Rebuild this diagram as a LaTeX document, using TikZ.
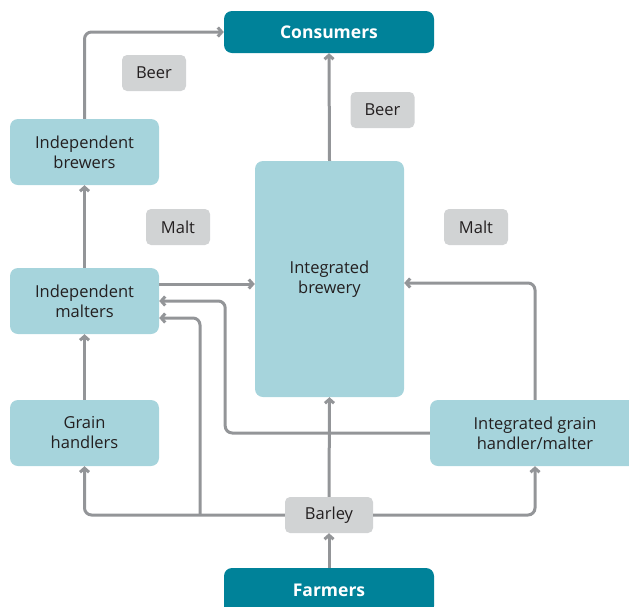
\documentclass[tikz,border=0pt]{standalone}
\usepackage{fontspec}
\setmainfont{Open Sans}
\usetikzlibrary{arrows.meta,calc}
\definecolor{boxlight}{HTML}{A6D4DC}
\definecolor{boxdark}{HTML}{008299}
\definecolor{tagfill}{HTML}{D1D3D4}
\definecolor{flowline}{HTML}{939598}
\definecolor{ink}{HTML}{231F20}
\begin{document}
\begin{tikzpicture}[x=1pt,y=-1pt,
  actor/.style={fill=boxlight, rounded corners=8pt, text=ink, align=center,
    font=\fontsize{16.5}{20}\selectfont, inner sep=0pt},
  endpoint/.style={fill=boxdark, rounded corners=8pt, text=white,
    font=\bfseries\fontsize{17.5}{20}\selectfont, inner sep=0pt, minimum width=210pt},
  tagbox/.style={fill=tagfill, rounded corners=5pt, text=ink,
    font=\fontsize{16.5}{20}\selectfont, inner sep=0pt, minimum width=64pt, minimum height=36pt},
  flow/.style={draw=flowline, line width=3pt, rounded corners=7pt,
    -{Straight Barb[length=4pt,width=9pt]}}]
\useasboundingbox (0,0) rectangle (629,606);
\clip (0,0) rectangle (629,606);

% market ends
\node[endpoint, minimum height=42pt] (cons) at (329,32) {Consumers};
\node[endpoint, minimum height=46pt] (farm) at (329,591) {\raisebox{2pt}{Farmers}};

% firms
\node[actor, minimum width=149pt, minimum height=66pt] (ib) at (84.5,152) {Independent\\brewers};
\node[actor, minimum width=149pt, minimum height=66pt] (im) at (84.5,301) {Independent\\malters};
\node[actor, minimum width=149pt, minimum height=66pt] (gh) at (84.5,433) {Grain\\handlers};
\node[actor, minimum width=149pt, minimum height=236pt] (brew) at (329.5,279) {Integrated\\brewery};
\node[actor, minimum width=210pt, minimum height=66pt] (igm) at (535,433) {Integrated grain\\handler/malter};

% product tags
\node[tagbox] (beerA) at (154,73) {Beer};
\node[tagbox] (beerB) at (382.5,110) {Beer};
\node[tagbox] (maltA) at (178,227) {Malt};
\node[tagbox] (maltB) at (476,227) {Malt};
\node[tagbox, minimum width=88pt] (barley) at (329,515) {Barley};

% helper points
\coordinate (split) at (200,515);
\coordinate (imhi) at ($(im.east)+(0,-17)$);
\coordinate (imlo) at ($(im.east)+(0,17)$);
\coordinate (bwin) at ($(brew.east)+(0,4)$);
\coordinate (igmturn) at ($(im.east)+(66,0)$);

% barley flows
\draw[flow] (farm.north) -- (barley.south);
\draw[flow] (barley.north) -- (brew.south);
\draw[flow] (barley.west) -| (gh.south);
\draw[flow] (barley.east) -| (igm.south);
\draw[flow] (split) |- (imlo);

% malt flows
\draw[flow] (gh.north) -- (im.south);
\draw[flow] (igm.west) -| (igmturn) -- (im.east);
\draw[flow] (igm.north) |- (bwin);
\draw[flow] (imhi) -- (imhi -| brew.west);
\draw[flow] (im.north) -- (ib.south);

% beer flows
\draw[flow] (ib.north) |- (cons.west);
\draw[flow] (brew.north) -- (cons.south);
\end{tikzpicture}
\end{document}
